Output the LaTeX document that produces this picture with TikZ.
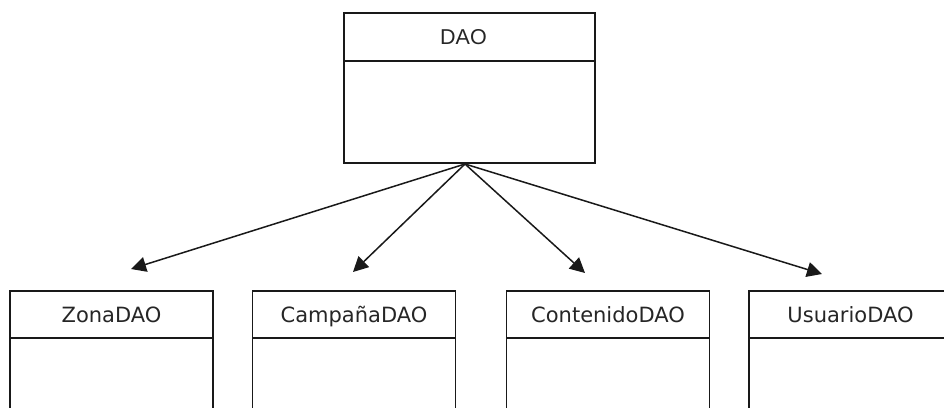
\documentclass[tikz,border=0pt]{standalone}
\usepackage{fontspec}
\setmainfont{DejaVu Sans}
\newfontfamily\arialf{Liberation Sans}
\usetikzlibrary{arrows.meta}
\tikzset{
  hdr/.style={draw=black!90, line width=1.8pt, minimum width=203pt, minimum height=47pt, inner sep=0pt, outer sep=0pt, text height=15pt, text depth=0pt, font=\fontsize{21}{22}\selectfont, text=black!85},
  bdy/.style={draw=black!90, line width=1.8pt, minimum width=203pt, minimum height=122pt, inner sep=0pt, outer sep=0pt},
  inh/.style={line width=1.5pt, draw=black!90, -{Triangle[length=15pt,width=15pt]}}
}
\begin{document}
\begin{tikzpicture}[x=1pt,y=-1pt]
\useasboundingbox (0,0) rectangle (944,407);
\clip (0,0) rectangle (944,407);
\fill[white] (0,0) rectangle (944,407);
% DAO
\node[hdr, minimum width=251pt, minimum height=48pt, font=\arialf\fontsize{21.5}{23}\selectfont] (daoh) at (469.5,37) {\hspace*{-12pt}DAO};
\node[bdy, minimum width=251pt, minimum height=102pt, anchor=north] (daob) at (daoh.south) {};
% subclasses
\node[hdr] (zonah) at (111.5,314.5) {ZonaDAO};
\node[bdy, anchor=north] (zonab) at (zonah.south) {};
\node[hdr] (camph) at (354,314.5) {CampañaDAO};
\node[bdy, anchor=north] (campb) at (camph.south) {};
\node[hdr] (conth) at (608,314.5) {ContenidoDAO};
\node[bdy, anchor=north] (contb) at (conth.south) {};
\node[hdr] (usuh) at (850.5,314.5) {UsuarioDAO};
\node[bdy, anchor=north] (usub) at (usuh.south) {};
% arrows
\coordinate (src) at (465,164);
\coordinate (tz) at (131,269);
\coordinate (tc) at (353,272);
\coordinate (tn) at (585,273);
\coordinate (tu) at (822,274);
\draw[inh] (src) -- (tz);
\draw[inh] (src) -- (tc);
\draw[inh] (src) -- (tn);
\draw[inh] (src) -- (tu);
\end{tikzpicture}
\end{document}
